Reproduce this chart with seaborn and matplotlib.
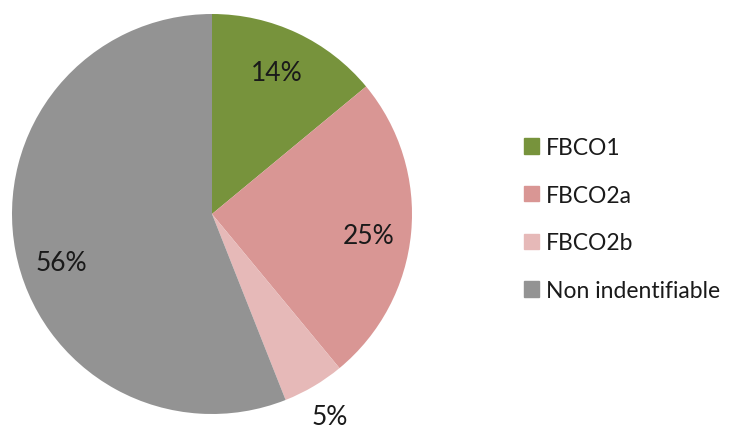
import matplotlib
matplotlib.use("Agg")
import matplotlib.pyplot as plt
import numpy as np
import seaborn as sns

categories = ["FBCO1", "FBCO2a", "FBCO2b", "Non indentifiable"]
shares = [14, 25, 5, 56]
slice_colors = ["#77933C", "#D99694", "#E6B9B8", "#939393"]

sns.set_theme(style="white")
plt.rcParams["font.family"] = ["Lato", "DejaVu Sans"]
palette = sns.color_palette(slice_colors)

fig = plt.figure(figsize=(7.34, 4.31), dpi=100)
ax = fig.add_axes([12 / 734, 16 / 431, 400 / 734, 400 / 431])

wedges, _ = ax.pie(shares, colors=palette, startangle=90, counterclock=False,
                   radius=1.0, wedgeprops=dict(linewidth=0))
ax.set_xlim(-1, 1)
ax.set_ylim(-1, 1)
ax.set_aspect("equal")
ax.axis("off")

# label placement: distance from centre and angular shift per slice
label_dist = [0.78, 0.79, 1.17, 0.79]
label_shift = [0.5, -2.5, -0.5, 7.0]
for w, v, d, s in zip(wedges, shares, label_dist, label_shift):
    ang = np.deg2rad((w.theta1 + w.theta2) / 2 + s)
    ax.text(d * np.cos(ang), d * np.sin(ang), f"{v}%", ha="center", va="center",
            fontsize=19, color="#1a1a1a")

handles = [plt.Rectangle((0, 0), 1, 1, color=c) for c in palette]
fig.legend(handles, categories, loc="center left", bbox_to_anchor=(524 / 734, 211 / 431),
           frameon=False, fontsize=16.5, handlelength=0.66, handleheight=0.66,
           handletextpad=0.3, labelspacing=1.16, borderpad=0, borderaxespad=0,
           labelcolor="#1a1a1a")

fig.savefig("out.png", dpi=100, facecolor="white")
